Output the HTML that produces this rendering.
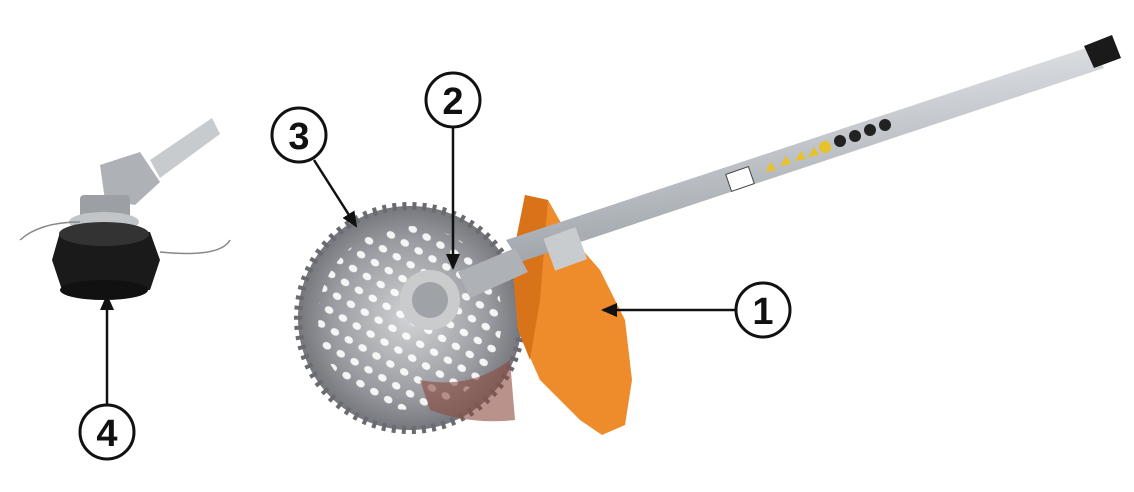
<!DOCTYPE html>
<html><head><meta charset="utf-8"><style>
html,body{margin:0;padding:0;background:#fff;}
svg{display:block}
text{font-family:"Liberation Sans",sans-serif;font-weight:bold;}
</style></head><body>
<svg width="1134" height="492" viewBox="0 0 1134 492" xmlns="http://www.w3.org/2000/svg">
<defs>
<linearGradient id="tube" x1="0" y1="0" x2="0.3" y2="1">
<stop offset="0" stop-color="#f2f3f5"/><stop offset="0.5" stop-color="#c6cacf"/><stop offset="1" stop-color="#9aa0a6"/>
</linearGradient>
<radialGradient id="blade" cx="0.5" cy="0.5" r="0.5">
<stop offset="0" stop-color="#d2d3d6"/><stop offset="0.7" stop-color="#9a9ba0"/><stop offset="1" stop-color="#76777c"/>
</radialGradient>
<pattern id="holes" width="16" height="16" patternUnits="userSpaceOnUse" patternTransform="rotate(30)">
<ellipse cx="8" cy="8" rx="4.5" ry="3.5" fill="#fff"/>
</pattern>
<marker id="ah" markerWidth="16" markerHeight="14" refX="14" refY="7" orient="auto" markerUnits="userSpaceOnUse">
<path d="M0,0 L16,7 L0,14 z" fill="#111"/>
</marker>
</defs>

<!-- left trimmer head -->
<path d="M150,160 L212,118 L220,134 L160,178 z" fill="#c8cbce"/>
<path d="M100,165 L140,152 L160,182 L135,205 L105,200 z" fill="#aeb2b6"/>
<rect x="80" y="195" width="50" height="25" fill="#9ca0a4" rx="4"/>
<ellipse cx="104" cy="222" rx="35" ry="10" fill="#c2c5c8"/>
<path d="M20,240 Q40,222 80,222" stroke="#888" fill="none" stroke-width="1.5"/>
<path d="M160,252 Q220,258 230,240" stroke="#888" fill="none" stroke-width="1.5"/>
<path d="M60,232 L150,232 L160,260 L150,290 L62,290 L52,260 z" fill="#1a1a1a"/>
<ellipse cx="104" cy="234" rx="45" ry="12" fill="#333"/>
<ellipse cx="104" cy="290" rx="44" ry="10" fill="#111"/>

<!-- blade -->
<circle cx="410" cy="318" r="112" fill="url(#blade)"/>
<circle cx="410" cy="318" r="112" fill="none" stroke="#6a6b70" stroke-width="8" stroke-dasharray="4 6"/>
<circle cx="410" cy="318" r="92" fill="url(#holes)" opacity="0.9"/>
<path d="M420,380 Q470,390 510,360 L515,420 Q470,425 430,410 z" fill="#8a4a3f" opacity="0.6"/>
<circle cx="430" cy="300" r="30" fill="#c9cbcd"/>
<circle cx="430" cy="300" r="18" fill="#9fa3a7"/>

<!-- orange guard -->
<path d="M525,195 L548,200 L565,230 L600,270 L625,320 L632,380 L625,425 L602,435 L580,420 L540,380 L518,330 L512,260 z" fill="#ee8b2a"/>
<path d="M525,195 L548,200 L540,300 L530,360 L518,330 L512,260 z" fill="#d9731a"/>

<!-- shaft -->
<path d="M1092,46 L1104,68 L520,262 L506,240 z" fill="url(#tube)"/>
<path d="M1084,46 L1112,35 L1121,58 L1094,68 z" fill="#1a1a1a"/>
<rect x="548" y="232" width="34" height="34" fill="#c9ccce" transform="rotate(-20 565 248)"/>
<path d="M458,272 L515,248 L528,272 L470,298 z" fill="#aeb2b6"/>
<!-- decals -->
<rect x="728" y="170" width="24" height="18" fill="#fff" stroke="#444" transform="rotate(-19 740 179)"/>
<g fill="#e8c22a">
<path d="M765,172 l6,-10 l5,8 z"/><path d="M780,166 l6,-10 l5,8 z"/><path d="M795,161 l6,-10 l5,8 z"/><path d="M808,157 l6,-10 l5,8 z"/>
</g>
<circle cx="825" cy="147" r="6" fill="#e8c22a"/>
<g fill="#222"><circle cx="840" cy="141" r="6"/><circle cx="855" cy="136" r="6"/><circle cx="870" cy="130" r="6"/><circle cx="885" cy="125" r="6"/></g>

<!-- arrows -->
<g stroke="#111" stroke-width="2.5" fill="none">
<line x1="735" y1="310" x2="603" y2="310" marker-end="url(#ah)"/>
<line x1="453" y1="128" x2="453" y2="268" marker-end="url(#ah)"/>
<line x1="314" y1="160" x2="356" y2="226" marker-end="url(#ah)"/>
<line x1="107" y1="404" x2="107" y2="296" marker-end="url(#ah)"/>
</g>

<!-- labels -->
<g fill="#fff" stroke="#111" stroke-width="3">
<circle cx="763" cy="310" r="27"/>
<circle cx="453" cy="100" r="27"/>
<circle cx="299" cy="135" r="27"/>
<circle cx="107" cy="432" r="27"/>
</g>
<g font-size="38" text-anchor="middle" fill="#111">
<text x="763" y="324">1</text>
<text x="453" y="114">2</text>
<text x="299" y="149">3</text>
<text x="107" y="446">4</text>
</g>
</svg>
</body></html>
